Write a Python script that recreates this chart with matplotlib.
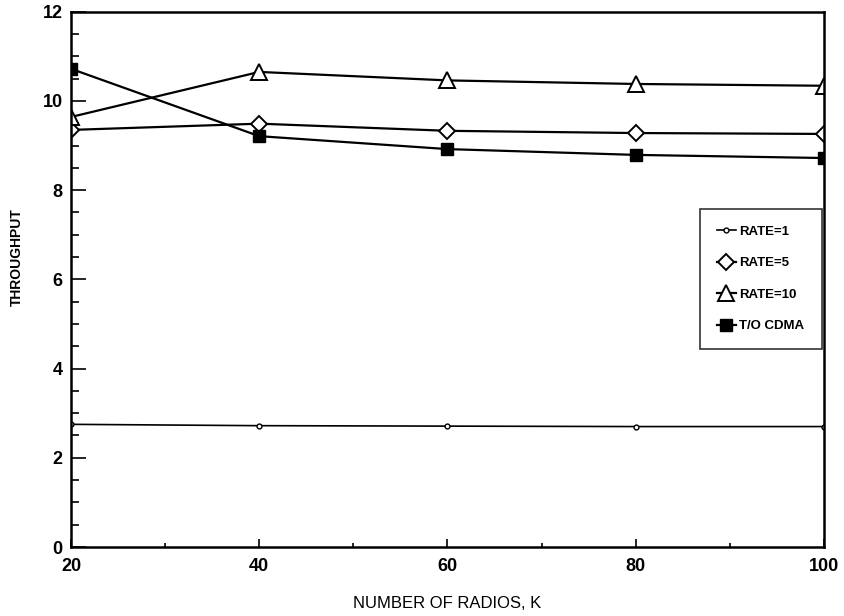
"""
Throughput against number of radios, four schemes.
"""
import matplotlib
matplotlib.use("Agg")
import matplotlib.pyplot as plt
from matplotlib.ticker import MultipleLocator
#
radios = [20, 40, 60, 80, 100]
rate_1 = [2.75, 2.72, 2.71, 2.70, 2.70]
rate_5 = [9.35, 9.49, 9.33, 9.28, 9.26]
rate_10 = [9.64, 10.65, 10.46, 10.38, 10.34]
to_cdma = [10.72, 9.21, 8.92, 8.79, 8.72]
labels = ["RATE=1", "RATE=5", "RATE=10", "T/O CDMA"]

FONT = "Liberation Sans"


def main() -> None:
    plt.rcParams["font.family"] = FONT
    plt.rcParams["font.weight"] = "bold"
    fig = plt.figure(figsize=(8.44, 6.16), dpi=100)
    ax = fig.add_axes([0.0841, 0.112, 0.8922, 0.869])

    ax.plot(radios, rate_1, color="black", lw=1.2, marker="o", ms=3.5,
            mfc="white", mew=1.0, label=labels[0])
    ax.plot(radios, rate_5, color="black", lw=1.6, marker="D", ms=8,
            mfc="white", mew=1.4, label=labels[1])
    ax.plot(radios, rate_10, color="black", lw=1.6, marker="^", ms=11,
            mfc="white", mew=1.4, label=labels[2])
    ax.plot(radios, to_cdma, color="black", lw=1.6, marker="s", ms=8,
            mfc="black", mew=1.0, label=labels[3])

    ax.set_xlim(20, 100)
    ax.set_ylim(0, 12)
    ax.xaxis.set_major_locator(MultipleLocator(20))
    ax.xaxis.set_minor_locator(MultipleLocator(10))
    ax.yaxis.set_major_locator(MultipleLocator(2))
    ax.yaxis.set_minor_locator(MultipleLocator(0.5))
    ax.tick_params(which="both", direction="in", top=False, right=False,
                   width=1.2, labelsize=13)
    ax.tick_params(axis="y", which="major", length=11, pad=6)
    ax.tick_params(axis="y", which="minor", length=6)
    ax.tick_params(axis="x", which="major", length=6, pad=8)
    ax.tick_params(axis="x", which="minor", length=3)
    for tl in ax.get_xticklabels() + ax.get_yticklabels():
        tl.set_fontweight("bold")
    for sp in ax.spines.values():
        sp.set_linewidth(1.8)

    ax.set_xlabel("NUMBER OF RADIOS, K", fontsize=12, fontweight="normal",
                  labelpad=15)
    ax.set_ylabel("THROUGHPUT", fontsize=10, fontweight="bold")
    ax.yaxis.set_label_coords(-0.062, 0.542)

    leg = ax.legend(loc="upper right", bbox_to_anchor=(0.997, 0.632),
                    fontsize=9.5, handlelength=1.4, handletextpad=0.3,
                    labelspacing=1.45, borderpad=1.3, frameon=True,
                    fancybox=False, edgecolor="black", borderaxespad=0)
    leg.get_frame().set_linewidth(1.2)
    for t in leg.get_texts():
        t.set_fontweight("bold")

    fig.savefig("out.png", dpi=100)


if __name__ == "__main__":
    main()
